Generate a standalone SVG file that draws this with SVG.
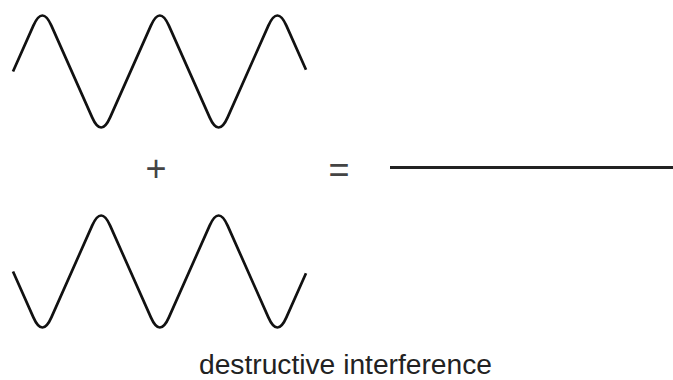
<svg xmlns="http://www.w3.org/2000/svg" width="673" height="380" viewBox="0 0 673 380">
  <style>
    .wave { fill: none; stroke: #111; stroke-width: 2.7; stroke-linejoin: round; stroke-linecap: butt; }
    .sym { font-family: "Liberation Sans", Arial, sans-serif; font-size: 36px; fill: #444; text-anchor: middle; }
    .cap { font-family: "Liberation Sans", Arial, sans-serif; font-size: 28.2px; fill: #222; }
  </style>
  <rect width="673" height="380" fill="#fff"/>
  <g id="wave-top">
    <path class="wave" d="M13,71.5 L33.38,25.63 Q42.38,5.37 51.38,25.63 L92.13,117.37 Q101.13,137.63 110.13,117.37 L150.88,25.63 Q159.88,5.37 168.88,25.63 L209.63,117.37 Q218.63,137.63 227.63,117.37 L268.38,25.63 Q277.38,5.37 286.38,25.63 L306,69.8"/>
  </g>
  <g id="wave-bottom">
    <path class="wave" d="M13,271.5 L33.38,317.37 Q42.38,337.63 51.38,317.37 L92.13,225.63 Q101.13,205.37 110.13,225.63 L150.88,317.37 Q159.88,337.63 168.88,317.37 L209.63,225.63 Q218.63,205.37 227.63,225.63 L268.38,317.37 Q277.38,337.63 286.38,317.37 L306,273.2"/>
  </g>
  <g id="plus">
    <text class="sym" x="156" y="181">+</text>
  </g>
  <g id="equals">
    <text class="sym" x="339" y="181.5">=</text>
  </g>
  <g id="result-line">
    <line x1="390" y1="167.5" x2="673" y2="167.5" stroke="#222" stroke-width="3"/>
  </g>
  <g id="caption">
    <text class="cap" x="199" y="373.5">destructive interference</text>
  </g>
</svg>
